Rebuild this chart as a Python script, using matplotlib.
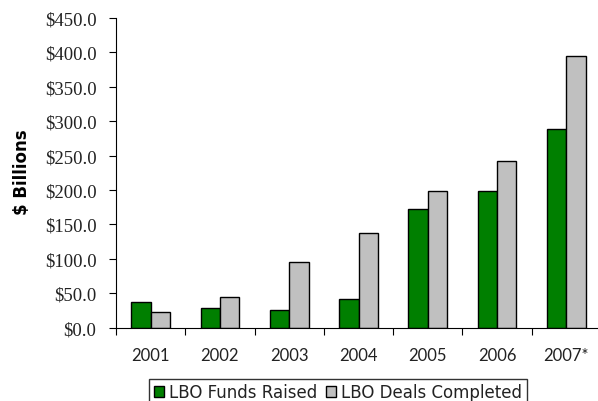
import numpy as np
import matplotlib
matplotlib.use("Agg")
import matplotlib.pyplot as plt
from matplotlib.ticker import FuncFormatter

# values ($ billions)
years = ["2001", "2002", "2003", "2004", "2005", "2006", "2007*"]
funds_raised = [37, 28, 25, 42, 173, 199, 288]
deals_completed = [23, 45, 95, 137, 199, 242, 395]

green = "#007F00"
grey = "#C0C0C0"

fig = plt.figure(figsize=(5.98, 4.02), dpi=100)
ax = fig.add_axes([116 / 598, 1 - 328.7 / 402, (601 - 116) / 598, (328.7 - 19) / 402])

x = np.arange(len(years))
w = 0.28
ax.bar(x - w / 2, funds_raised, w, color=green, edgecolor="black", linewidth=1,
       label="LBO Funds Raised")
ax.bar(x + w / 2, deals_completed, w, color=grey, edgecolor="black", linewidth=1,
       label="LBO Deals Completed")

ax.set_xlim(-0.5, len(years) - 0.5)
ax.set_ylim(0, 450)
ax.set_yticks(np.arange(0, 451, 50))
ax.yaxis.set_major_formatter(FuncFormatter(lambda v, p: f"${v:.1f}"))
for lab in ax.get_yticklabels():
    lab.set_fontfamily("Liberation Serif")
    lab.set_fontsize(13.5)
    lab.set_color("#222222")

# category labels between the boundary ticks
ax.set_xticks(np.arange(len(years) + 1) - 0.5)
ax.set_xticklabels([])
ax.set_xticks(x, minor=True)
ax.set_xticklabels(years, minor=True, fontfamily="Lato", fontsize=12, color="#222222")
ax.tick_params(axis="x", which="minor", length=0, pad=14)
ax.tick_params(axis="x", which="major", length=5, direction="out")
ax.tick_params(axis="y", length=5, direction="out", pad=9)

ax.spines["top"].set_visible(False)
ax.spines["right"].set_visible(False)

ax.set_ylabel("$ Billions", fontfamily="DejaVu Sans", fontweight="bold", fontsize=12)
ax.yaxis.set_label_coords(-0.175, 0.505)

leg = fig.legend(loc="upper center", bbox_to_anchor=(338 / 598, 1 - 379.5 / 402), ncol=2,
                 frameon=True, fancybox=False,
                 prop={"family": "DejaVu Sans", "size": 12},
                 handlelength=0.6, handleheight=0.6, handletextpad=0.3, columnspacing=0.5,
                 borderpad=0.3, borderaxespad=0)
leg.get_frame().set_edgecolor("black")
leg.get_frame().set_linewidth(1)
for t in leg.get_texts():
    t.set_color("#222222")

fig.savefig("out.png", dpi=100)
